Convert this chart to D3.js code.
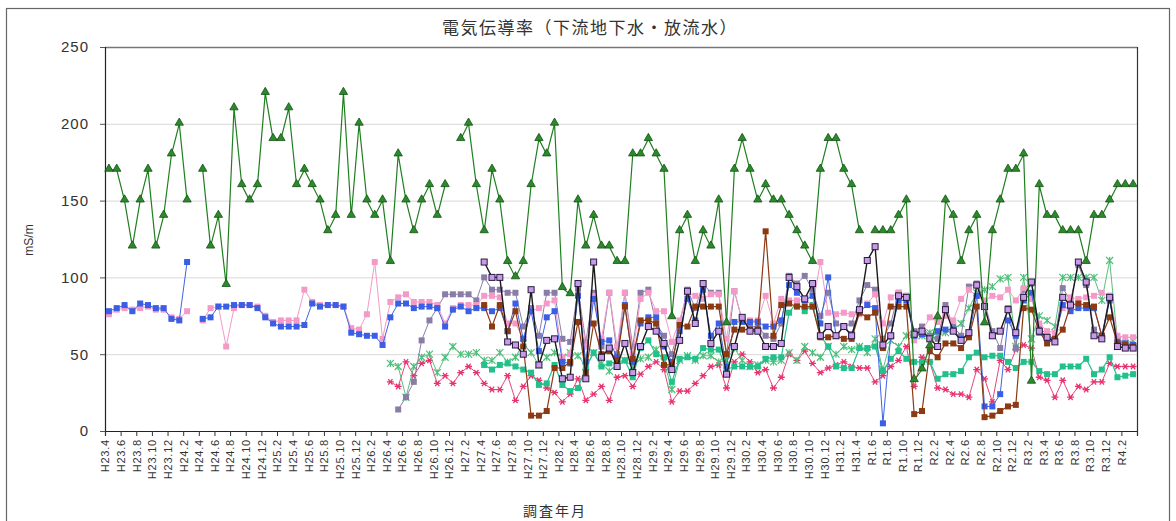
<!DOCTYPE html>
<html><head><meta charset="utf-8">
<script src="https://cdn.jsdelivr.net/npm/d3@7"></script>
<style>
body{margin:0;background:#fff;}
svg{display:block;font-family:"Liberation Sans",Arial,sans-serif;}
</style>
</head><body>
<svg id="chart" width="1176" height="521"></svg>
<script>
// ---------- data ----------
const title = "電気伝導率（下流地下水・放流水）";
const yTitle = "mS/m";
const xTitle = "調査年月";
const yTicks = [0, 50, 100, 150, 200, 250];

// monthly categories H23.4 … R4.3 (calendar, 132 months)
const categories = [];
for (let k = 0; k < 132; k++) {
  const t = 2011 * 12 + 3 + k, yr = Math.floor(t / 12), mo = t % 12 + 1;
  const heisei = yr < 2019 || (yr === 2019 && mo <= 4);
  categories.push((heisei ? "H" + (yr - 1988) : "R" + (yr - 2018)) + "." + mo);
}
const tickLabels = ["H23.4","H23.6","H23.8","H23.10","H23.12","H24.2","H24.4","H24.6","H24.8","H24.10","H24.12",
 "H25.2","H25.4","H25.6","H25.8","H25.10","H25.12","H26.2","H26.4","H26.6","H26.8","H26.10","H26.12",
 "H27.2","H27.4","H27.6","H27.8","H27.10","H27.12","H28.2","H28.4","H28.6","H28.8","H28.10","H28.12",
 "H29.2","H29.4","H29.6","H29.8","H29.10","H29.12","H30.2","H30.4","H30.6","H30.8","H30.10","H30.12",
 "H31.2","H31.4","R1.6","R1.8","R1.10","R1.12","R2.2","R2.4","R2.6","R2.8","R2.10","R2.12",
 "R3.2","R3.4","R3.6","R3.8","R3.10","R3.12","R4.2"];

const _ = null;
// green triangles
const seriesA = [170,170,150,120,150,170,120,140,180,200,150,_,
 170,120,140,95,210,160,150,160,220,190,190,210,160,170,160,150,130,140,220,140,200,150,140,150,110,180,150,130,150,160,140,160,_,
 190,200,160,130,170,150,110,100,110,160,190,180,200,93,89,150,120,140,120,120,110,110,180,180,190,180,170,74,130,140,110,130,120,150,70,170,190,170,150,160,150,150,140,130,120,110,170,190,190,170,160,130,_,
 130,130,130,140,150,33,40,55,74,150,140,110,130,140,70,130,150,170,170,180,32,160,140,140,130,130,130,110,140,140,150,160,160,160];
// blue squares
const seriesB = [78,80,82,78,83,82,80,80,73,72,110,_,
 73,74,81,81,82,82,82,80,74,70,68,68,68,69,83,81,82,82,81,64,63,62,62,56,74,83,83,80,81,81,80,68,79,81,78,80,
 80,78,80,65,83,60,78,52,74,78,45,44,88,45,86,58,59,48,82,45,70,74,74,55,45,65,86,72,92,62,70,42,71,71,71,71,68,68,72,95,90,85,88,
 70,100,62,68,63,78,82,80,5,62,85,85,62,63,60,65,66,66,60,62,88,16,16,24,72,62,85,90,64,60,60,82,78,80,80,80,62,85,58,57,56];
// pink squares
const seriesC = [76,79,80,79,80,81,79,79,74,73,78,_,
 72,80,81,55,80,82,82,81,75,71,72,72,72,92,84,82,82,82,81,67,66,76,110,60,84,87,89,84,84,84,82,70,
 80,82,82,82,88,88,87,70,70,60,78,80,83,85,48,50,89,55,88,60,90,55,90,50,86,90,78,78,58,72,90,88,86,89,89,60,91,72,72,72,88,70,86,85,85,86,81,
 110,77,76,77,76,76,83,89,70,87,90,88,59,65,74,71,75,72,86,92,88,85,88,87,92,85,93,86,70,65,64,80,87,86,87,88,90,88,62,61,61];
// lavender squares, black line
const seriesD = [_,_,_,_,_,_,_,_,_,_,_,_,_,_,_,_,_,_,_,_,_,_,_,_,_,_,_,_,_,_,_,_,_,_,_,_,_,_,_,_,_,_,_,_,_,_,_,_,
 110,100,100,58,56,50,92,43,59,60,34,35,96,34,110,48,54,42,57,38,55,68,65,57,40,59,91,70,96,57,65,37,55,74,65,65,55,55,57,100,94,86,96,
 62,68,62,68,62,79,111,120,56,62,88,87,63,65,60,55,79,65,59,64,95,81,62,65,79,64,87,97,65,61,58,87,82,110,97,62,60,87,55,54,54];
// brown squares
const seriesE = [_,_,_,_,_,_,_,_,_,_,_,_,_,_,_,_,_,_,_,_,_,_,_,_,_,_,_,_,_,_,_,_,_,_,_,_,_,_,_,_,_,_,_,_,_,_,_,_,
 82,68,82,65,78,55,10,10,13,41,41,45,71,38,70,50,52,46,81,47,72,72,70,43,43,69,68,81,81,81,81,50,66,66,66,66,130,62,82,83,81,81,81,
 61,61,62,60,60,77,74,77,54,81,81,81,11,13,52,48,57,57,54,61,81,9,10,13,16,17,80,79,65,57,60,66,82,83,82,81,62,74,57,56,55];
// teal squares
const seriesF = [_,_,_,_,_,_,_,_,_,_,_,_,_,_,_,_,_,_,_,_,_,_,_,_,_,_,_,_,_,_,_,_,_,_,_,_,_,_,_,_,_,_,_,_,_,_,_,_,
 43,40,43,44,42,40,38,30,31,43,30,26,28,41,51,42,44,45,46,35,54,59,50,48,32,47,48,47,54,53,53,40,42,42,42,42,47,48,48,77,84,78,82,
 62,55,42,41,41,54,54,55,39,47,52,47,45,45,45,34,37,37,39,48,51,48,49,49,45,41,45,45,39,37,37,42,42,42,47,37,40,48,35,36,37];
// crimson asterisks
const seriesG = [_,_,_,_,_,_,_,_,_,_,_,_,_,_,_,_,_,_,_,_,_,_,_,_,_,_,_,_,_,_,_,_,_,_,_,_,
 32,29,45,36,44,46,31,36,31,38,42,38,31,27,27,36,20,29,36,33,28,25,19,24,34,20,24,29,20,35,36,29,37,42,45,40,19,26,26,31,36,42,43,28,45,50,45,38,40,28,35,50,46,52,44,
 38,41,43,45,42,41,41,32,36,42,46,55,29,48,45,28,27,24,24,22,40,34,19,46,40,53,56,54,35,33,22,33,22,29,27,32,32,44,42,42,42];
// light green crosses
const seriesH = [_,_,_,_,_,_,_,_,_,_,_,_,_,_,_,_,_,_,_,_,_,_,_,_,_,_,_,_,_,_,_,_,_,_,_,_,
 44,42,22,42,48,50,38,48,55,50,50,51,46,46,51,45,48,57,51,43,48,51,48,51,49,42,51,44,39,43,46,42,47,48,53,45,27,46,49,46,49,49,45,46,54,46,42,43,46,45,46,51,46,55,51,
 48,55,50,55,53,55,51,60,40,59,55,62,63,62,64,62,64,66,70,80,90,92,94,99,100,55,100,60,75,72,68,100,100,100,100,100,85,111,59,57,59];
// grey-purple squares
const seriesI = [_,_,_,_,_,_,_,_,_,_,_,_,_,_,_,_,_,_,_,_,_,_,_,_,_,_,_,_,_,_,_,_,_,_,_,_,_,
 14,22,32,59,72,80,89,89,89,89,85,
 100,92,92,90,90,68,80,62,90,90,60,58,92,58,90,55,90,50,90,55,90,92,70,62,50,70,92,80,96,90,90,50,91,72,68,68,62,60,70,101,96,101,92,
 75,90,70,68,70,85,95,92,60,70,90,88,65,68,62,60,82,68,62,94,96,84,65,54,80,54,92,96,68,62,60,93,85,108,95,66,62,88,60,57,56];

// ---------- layout ----------
const svg = d3.select("#chart");
const L = 105, R = 1137, T = 47, B = 431;

const x = d3.scaleBand().domain(categories).range([L, R]).paddingInner(0).paddingOuter(0);
const xTick = d3.scalePoint().domain(tickLabels.concat(["__end"])).range([L, R]).padding(0);
const y = d3.scaleLinear().domain([0, 250]).range([B, T]);
const cx = i => x(categories[i]) + x.bandwidth() / 2;

// outer frame
svg.append("rect").attr("x", 6.5).attr("y", 8.5).attr("width", 1163).attr("height", 560)
  .attr("fill", "none").attr("stroke", "#666").attr("stroke-width", 1.2);

// title
svg.append("text").attr("x", 590).attr("y", 34).attr("text-anchor", "middle")
  .attr("font-family", "'Noto Sans CJK JP',sans-serif").attr("font-size", 17).attr("fill", "#333")
  .attr("letter-spacing", 1.5).text(title);

// gridlines
svg.append("g").selectAll("line").data(yTicks.filter(v => v > 0 && v < 250)).join("line")
  .attr("x1", L).attr("x2", R).attr("y1", d => y(d) + 0.5).attr("y2", d => y(d) + 0.5)
  .attr("stroke", "#d8d8d8").attr("stroke-width", 1);

// plot frame top/right
svg.append("line").attr("x1", L).attr("x2", R).attr("y1", y(250) + 0.5).attr("y2", y(250) + 0.5)
  .attr("stroke", "#777").attr("stroke-width", 1.5);
svg.append("line").attr("x1", R + 0.5).attr("x2", R + 0.5).attr("y1", T).attr("y2", B)
  .attr("stroke", "#333").attr("stroke-width", 1.2);

// y axis
const gy = svg.append("g").attr("transform", `translate(${L},0)`)
  .call(d3.axisLeft(y).tickValues(yTicks).tickSize(5).tickPadding(11));
gy.select(".domain").attr("stroke", "#222").attr("stroke-width", 1.2);
gy.selectAll(".tick line").attr("stroke", "#555");
gy.selectAll("text").attr("font-size", 15).attr("fill", "#333").attr("letter-spacing", 1);

// x axis
const gx = svg.append("g").attr("transform", `translate(0,${B})`)
  .call(d3.axisBottom(xTick).tickSize(5).tickFormat(d => d === "__end" ? "" : d));
gx.select(".domain").attr("stroke", "#222").attr("stroke-width", 1.2);
gx.selectAll(".tick line").attr("stroke", "#333");
gx.selectAll("text").attr("transform", "rotate(-90)").attr("text-anchor", "end")
  .attr("x", -8).attr("y", 0).attr("dy", "0.35em")
  .attr("font-size", 11).attr("letter-spacing", 0.8).attr("fill", "#333");

// axis titles
svg.append("text").attr("transform", "translate(33,240) rotate(-90)").attr("text-anchor", "middle")
  .attr("font-size", 12).attr("fill", "#333").text(yTitle);
svg.append("text").attr("x", 555).attr("y", 516).attr("text-anchor", "middle")
  .attr("font-family", "'Noto Sans CJK JP',sans-serif").attr("font-size", 14).attr("fill", "#333")
  .attr("letter-spacing", 2).text(xTitle);

// ---------- series ----------
const plot = svg.append("g");
function drawSeries(vals, cfg) {
  const pts = vals.map((v, i) => ({ i, v }));
  const line = d3.line().defined(d => d.v != null).x(d => cx(d.i)).y(d => y(d.v));
  plot.append("path").datum(pts).attr("d", line).attr("fill", "none")
    .attr("stroke", cfg.line).attr("stroke-width", cfg.lw || 1);
  const valid = pts.filter(d => d.v != null);
  const g = plot.append("g");
  if (cfg.shape === "square") {
    const s = cfg.size || 6;
    g.selectAll("rect").data(valid).join("rect")
      .attr("x", d => cx(d.i) - s / 2).attr("y", d => y(d.v) - s / 2)
      .attr("width", s).attr("height", s)
      .attr("fill", cfg.fill).attr("stroke", cfg.stroke || "none").attr("stroke-width", cfg.sw || 1);
  } else if (cfg.shape === "triangle") {
    g.selectAll("path").data(valid).join("path")
      .attr("d", d3.symbol(d3.symbolTriangle, 30)).attr("transform", d => `translate(${cx(d.i)},${y(d.v) - 1})`)
      .attr("fill", cfg.fill).attr("stroke", cfg.stroke).attr("stroke-width", 0.8);
  } else if (cfg.shape === "asterisk") {
    const r = 3.5;
    g.selectAll("path").data(valid).join("path")
      .attr("d", `M${-r},0L${r},0M${-r*0.6},${-r*0.8}L${r*0.6},${r*0.8}M${-r*0.6},${r*0.8}L${r*0.6},${-r*0.8}`)
      .attr("transform", d => `translate(${cx(d.i)},${y(d.v)})`)
      .attr("stroke", cfg.fill).attr("stroke-width", 1.3).attr("fill", "none");
  } else if (cfg.shape === "cross") {
    const r = 3.5;
    g.selectAll("path").data(valid).join("path")
      .attr("d", `M${-r},${-r}L${r},${r}M${-r},${r}L${r},${-r}M0,${-r}L0,${r}`)
      .attr("transform", d => `translate(${cx(d.i)},${y(d.v)})`)
      .attr("stroke", cfg.fill).attr("stroke-width", 1.2).attr("fill", "none");
  }
}

drawSeries(seriesG, { shape: "asterisk", line: "#e8457a", fill: "#e8336e", lw: 1 });
drawSeries(seriesH, { shape: "cross", line: "#5cbf7e", fill: "#4cc07a", lw: 1 });
drawSeries(seriesF, { shape: "square", line: "#22c08a", fill: "#22c08a", lw: 1.2, size: 6 });
drawSeries(seriesI, { shape: "square", line: "#8a7fa8", fill: "#8a7ca8", lw: 1, size: 6 });
drawSeries(seriesC, { shape: "square", line: "#f49ac6", fill: "#f59ac8", lw: 1, size: 6 });
drawSeries(seriesB, { shape: "square", line: "#3f63e6", fill: "#3a5fe5", lw: 1, size: 6 });
drawSeries(seriesE, { shape: "square", line: "#8b3a12", fill: "#8b3a12", lw: 1.2, size: 6 });
drawSeries(seriesD, { shape: "square", line: "#1a1a1a", fill: "#c79be8", stroke: "#2a1a40", sw: 1, lw: 1.4, size: 6 });
drawSeries(seriesA, { shape: "triangle", line: "#1f7f1f", fill: "#2b8a2b", stroke: "#145214", lw: 1.2 });
</script>
</body></html>
